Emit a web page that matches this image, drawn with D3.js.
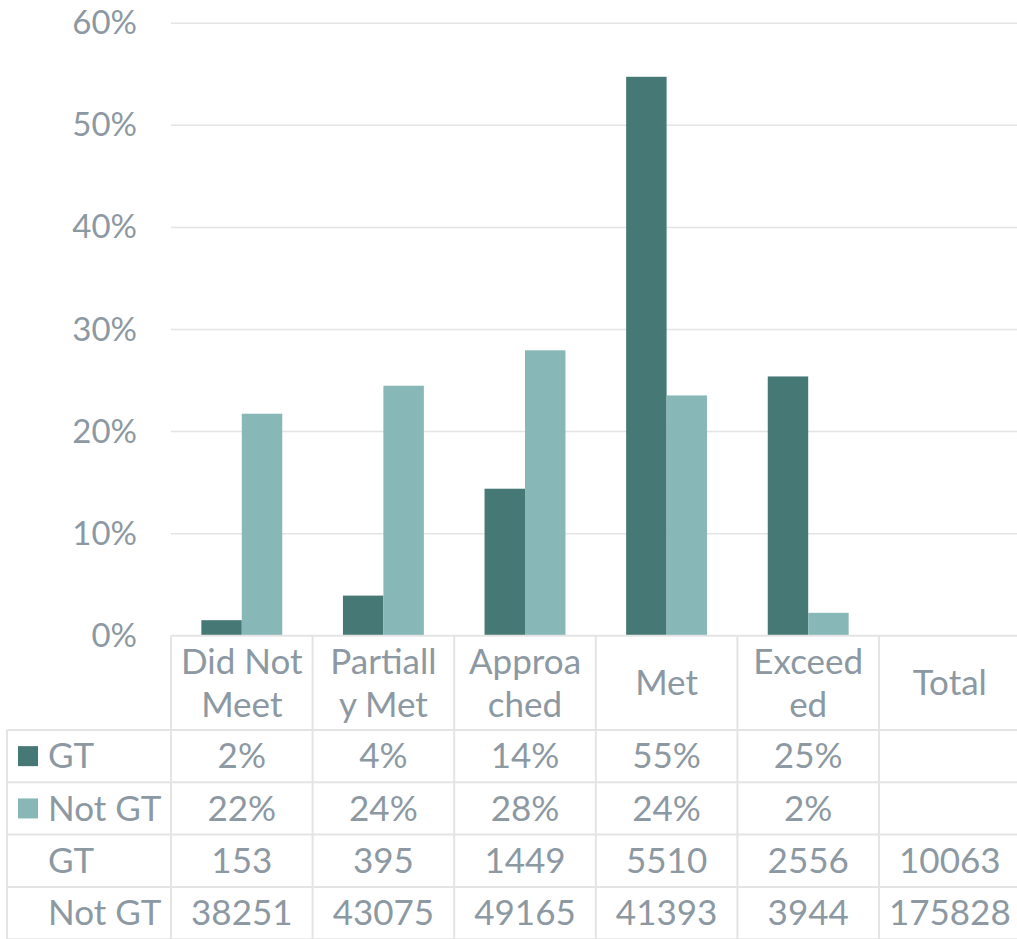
<!DOCTYPE html>
<html>
<head>
<meta charset="utf-8">
<script src="https://cdn.jsdelivr.net/npm/d3@7"></script>
<style>
  html, body { margin: 0; padding: 0; background: #fff; }
  svg { display: block; }
  text { font-family: Lato, "Open Sans", sans-serif; fill: #8c98a2; }
</style>
</head>
<body>
<svg id="chart" width="1017" height="939"></svg>
<script>
// ---- data ----
const categories = ["Did Not Meet", "Partially Met", "Approached", "Met", "Exceeded", "Total"];
const categoryLines = [["Did Not", "Meet"], ["Partiall", "y Met"], ["Approa", "ched"], ["Met"], ["Exceed", "ed"], ["Total"]];
const seriesNames = ["GT", "Not GT"];
const gtPct    = [0.0152, 0.0393, 0.144, 0.5476, 0.254, null];
const notGtPct = [0.2175, 0.2449, 0.2796, 0.2354, 0.0224, null];
const gtCount    = [153, 395, 1449, 5510, 2556, 10063];
const notGtCount = [38251, 43075, 49165, 41393, 3944, 175828];
const yTicks = [0, 0.1, 0.2, 0.3, 0.4, 0.5, 0.6];
const colors = ["#467876", "#87b7b7"];

// ---- layout ----
const svg = d3.select("#chart");
const plotLeft = 171, plotRight = 1020.6, plotTop = 23.3, zeroY = 635.7;
const headerBottom = 730, rowH = 52.3, tableLeft = 7;
const gridColor = "#e4e4e4";

const x0 = d3.scaleBand().domain(categories).range([plotLeft, plotRight]).paddingInner(0).paddingOuter(0);
const x1 = d3.scaleBand().domain(seriesNames).range([0, x0.bandwidth()]).paddingInner(0).paddingOuter(0.75);
const y = d3.scaleLinear().domain([0, 0.6]).range([zeroY, plotTop]);

// gridlines
svg.append("g").selectAll("line").data(yTicks.filter(d => d > 0)).join("line")
  .attr("x1", plotLeft).attr("x2", plotRight)
  .attr("y1", d => y(d)).attr("y2", d => y(d))
  .attr("stroke", gridColor).attr("stroke-width", 1.5);

// y axis
const yAxis = svg.append("g").attr("transform", `translate(${plotLeft},0)`)
  .call(d3.axisLeft(y).tickValues(yTicks).tickFormat(d3.format(".0%")).tickSize(0).tickPadding(34));
yAxis.select(".domain").remove();
yAxis.selectAll("text").style("font-size", "33px").attr("fill", "#8c98a2")
  .style("font-family", "Lato, 'Open Sans', sans-serif");

// bars
const seriesData = [gtPct, notGtPct];
const barG = svg.append("g");
seriesData.forEach((vals, si) => {
  barG.append("g").selectAll("rect")
    .data(categories.map((c, i) => ({ c, v: vals[i] })).filter(d => d.v != null))
    .join("rect")
    .attr("x", d => x0(d.c) + x1(seriesNames[si]))
    .attr("width", x1.bandwidth())
    .attr("y", d => y(d.v))
    .attr("height", d => y(0) - y(d.v))
    .attr("fill", colors[si]);
});

// ---- table ----
const tbl = svg.append("g");
const rowTops = [headerBottom, headerBottom + rowH, headerBottom + 2 * rowH, headerBottom + 3 * rowH];
const tableBottom = headerBottom + 4 * rowH;

// horizontal lines
tbl.append("line").attr("x1", plotLeft).attr("x2", plotRight).attr("y1", zeroY).attr("y2", zeroY);
rowTops.concat([tableBottom]).forEach(yy => {
  tbl.append("line").attr("x1", tableLeft).attr("x2", plotRight).attr("y1", yy).attr("y2", yy);
});
// vertical lines
tbl.append("line").attr("x1", tableLeft).attr("x2", tableLeft).attr("y1", headerBottom).attr("y2", tableBottom);
categories.forEach(c => {
  tbl.append("line").attr("x1", x0(c)).attr("x2", x0(c)).attr("y1", zeroY).attr("y2", tableBottom);
});
tbl.append("line").attr("x1", plotRight - 1).attr("x2", plotRight - 1).attr("y1", zeroY).attr("y2", tableBottom);
tbl.selectAll("line").attr("stroke", gridColor).attr("stroke-width", 2);

const fontSize = 35;
// header
const headerMid = (zeroY + headerBottom) / 2;
categories.forEach((c, i) => {
  const lines = categoryLines[i];
  const cx = x0(c) + x0.bandwidth() / 2;
  const lh = 43;
  lines.forEach((ln, j) => {
    tbl.append("text")
      .attr("x", cx)
      .attr("y", headerMid + (j - (lines.length - 1) / 2) * lh)
      .attr("dy", "0.35em")
      .attr("text-anchor", "middle")
      .style("font-size", fontSize + "px")
      .text(ln);
  });
});

// rows
const fmtPct = d3.format(".0%");
const rows = [
  { label: "GT", key: colors[0], vals: gtPct.map(v => v == null ? "" : fmtPct(v)) },
  { label: "Not GT", key: colors[1], vals: notGtPct.map(v => v == null ? "" : fmtPct(v)) },
  { label: "GT", key: null, vals: gtCount.map(String) },
  { label: "Not GT", key: null, vals: notGtCount.map(String) }
];
rows.forEach((r, ri) => {
  const cy = rowTops[ri] + rowH / 2;
  if (r.key) {
    tbl.append("rect").attr("x", 18).attr("y", cy - 10).attr("width", 20).attr("height", 20).attr("fill", r.key);
  }
  tbl.append("text").attr("x", 48).attr("y", cy).attr("dy", "0.35em")
    .style("font-size", fontSize + "px").text(r.label);
  r.vals.forEach((v, i) => {
    tbl.append("text").attr("x", x0(categories[i]) + x0.bandwidth() / 2).attr("y", cy).attr("dy", "0.35em")
      .attr("text-anchor", "middle").style("font-size", fontSize + "px").text(v);
  });
});
</script>
</body>
</html>
